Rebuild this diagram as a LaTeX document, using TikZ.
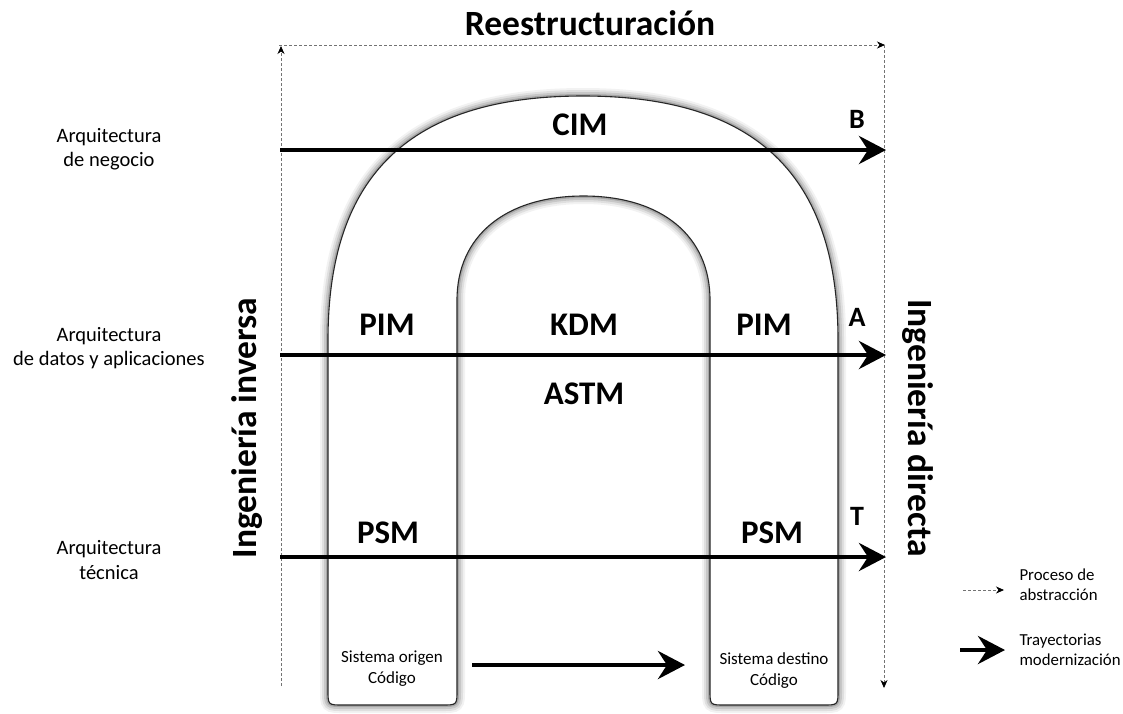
\documentclass[tikz,border=0pt]{standalone}
\usepackage{fontspec}
\setmainfont{Carlito}
\usetikzlibrary{arrows.meta}

\begin{document}
\begin{tikzpicture}[x=1pt,y=-1pt,
  track/.style={line width=4.5pt,-{Stealth[length=27pt,width=28pt,inset=9pt]}},
  abstr/.style={draw=black!55,line width=0.8pt,dash pattern=on 3pt off 2pt,
    -{Stealth[length=8pt,width=7pt,inset=2.5pt,color=black]}},
  heading/.style={font=\bfseries\fontsize{35.5}{38}\selectfont},
  level/.style={font=\bfseries\fontsize{33}{36}\selectfont},
  letter/.style={font=\bfseries\fontsize{28}{30}\selectfont},
  layer/.style={font=\fontsize{20.5}{24.5}\selectfont,align=center},
  code/.style={font=\fontsize{17}{21}\selectfont,align=center},
  legendtext/.style={font=\fontsize{16.8}{20}\selectfont,align=left,anchor=west},
]
\useasboundingbox (0,0) rectangle (1123,713);

% U-shaped band: outline saved once, reused for shadow, fill and stroke
\path[save path=\ushape]
  (328,690) -- (328,340)
  .. controls (328,175) and (410,96) .. (583,96)
  .. controls (756,96) and (838,175) .. (838,340)
  -- (838,690) .. controls (838,705) .. (823,705)
  -- (725,705) .. controls (710,705) .. (710,690)
  -- (710,300) .. controls (710,236) and (661.5,196) .. (583.5,196)
  .. controls (505.5,196) and (457,236) .. (457,300)
  -- (457,690) .. controls (457,705) .. (442,705)
  -- (343,705) .. controls (328,705) .. (328,690) -- cycle;

% soft shadow around the band
\draw[use path=\ushape,line width=16pt,draw=black,opacity=0.05];
\draw[use path=\ushape,line width=12pt,draw=black,opacity=0.08];
\draw[use path=\ushape,line width=8pt,draw=black,opacity=0.11];
\draw[use path=\ushape,line width=4pt,draw=black,opacity=0.16];
\fill[use path=\ushape,white];
\draw[use path=\ushape,draw=black!85,line width=1.1pt];

% abstraction frame (dashed)
\coordinate (fl) at (281,686);
\coordinate (tl) at (281,46);
\coordinate (tl2) at (279,45);
\coordinate (tr) at (885,45);
\coordinate (tr2) at (884,45);
\coordinate (br) at (884,688);
\draw[abstr] (fl) -- (tl);
\draw[abstr] (tl2) -- (tr);
\draw[abstr] (tr2) -- (br);

\node[heading] (reest) at (590,23) {Reestructuración};
\node[heading,rotate=90] (inv) at (247,428) {Ingeniería inversa};
\node[heading,rotate=-90] (dir) at (918,428) {Ingeniería directa};

% levels inside the band
\node[level] (cim) at (580,125) {CIM};
\node[level] (pimL) at (387,325) {PIM};
\node[level] (kdm) at (584,325) {KDM};
\node[level] (pimR) at (764,325) {PIM};
\node[level] (astm) at (584,394) {ASTM};
\node[level] (psmL) at (388,533) {PSM};
\node[level] (psmR) at (772,533) {PSM};

\node[letter] (lb) at (857,119) {B};
\node[letter] (la) at (857,317) {A};
\node[letter] (lt) at (857,516) {T};

% architecture layers
\node[layer] (negocio) at (109,149) {Arquitectura\\de negocio};
\node[layer] (datos) at (109,348) {Arquitectura\\de datos y aplicaciones};
\node[layer] (tecnica) at (109,560) {Arquitectura\\técnica};

% modernisation trajectories
\coordinate (b0) at (280,150);
\coordinate (b1) at (886,150);
\coordinate (a0) at (280,355);
\coordinate (a1) at (886,355);
\coordinate (t0) at (280,557);
\coordinate (t1) at (886,557);
\draw[track] (b0) -- (b1);
\draw[track] (a0) -- (a1);
\draw[track] (t0) -- (t1);

\node[code] (origen) at (392,669) {Sistema origen\\Código};
\node[code] (destino) at (774,671) {Sistema destino\\Código};
\coordinate (c0) at (472,665);
\coordinate (c1) at (685,665);
\draw[track] (c0) -- (c1);

% legend
\coordinate (ld0) at (963,590);
\coordinate (ld1) at (1004,590);
\draw[abstr] (ld0) -- (ld1);
\node[legendtext] (lgabs) at (1016,585) {Proceso de\\abstracción};
\coordinate (ls0) at (960,650);
\coordinate (ls1) at (1005,650);
\draw[track] (ls0) -- (ls1);
\node[legendtext] (lgtra) at (1016,650) {Trayectorias\\modernización};
\end{tikzpicture}
\end{document}
